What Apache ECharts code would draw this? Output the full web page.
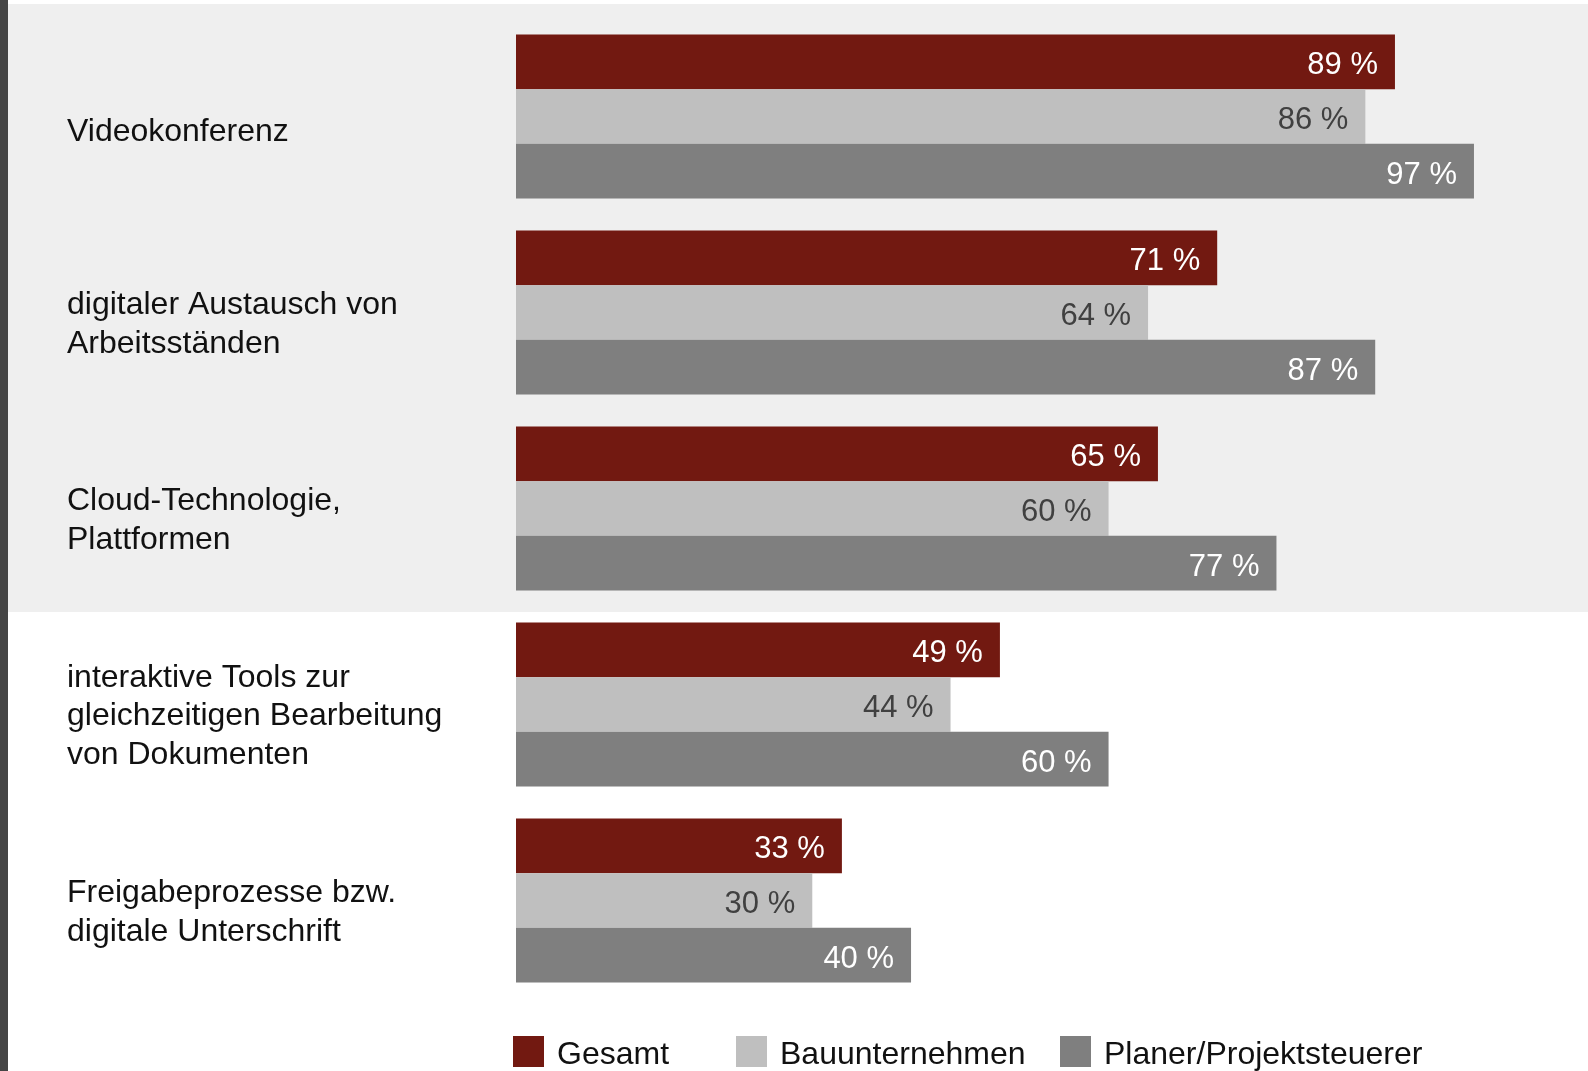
<!DOCTYPE html>
<html>
<head>
<meta charset="utf-8">
<style>
  html, body { margin: 0; padding: 0; background: #ffffff; }
  #chart { width: 1588px; height: 1071px; }
</style>
<script src="https://cdn.jsdelivr.net/npm/echarts@6/dist/echarts.min.js"></script>
</head>
<body>
<div id="chart"></div>
<script>
// Nutzung digitaler Werkzeuge in der Zusammenarbeit (Anteile in %)
const categories = [
  'Videokonferenz',
  'digitaler Austausch von\nArbeitsständen',
  'Cloud-Technologie,\nPlattformen',
  'interaktive Tools zur\ngleichzeitigen Bearbeitung\nvon Dokumenten',
  'Freigabeprozesse bzw.\ndigitale Unterschrift'
];
const seriesNames = ['Gesamt', 'Bauunternehmen', 'Planer/Projektsteuerer'];
const gesamt = [89, 71, 65, 49, 33];
const bauunternehmen = [86, 64, 60, 44, 30];
const planer = [97, 87, 77, 60, 40];

const colors = ['#721911', '#bfbfbf', '#7f7f7f'];
const labelColors = ['#ffffff', '#404040', '#ffffff'];
const FONT = '"Liberation Sans", Arial, sans-serif';

const chart = echarts.init(document.getElementById('chart'), null, { renderer: 'canvas' });

function barSeries(name, data, idx) {
  return {
    name: name,
    type: 'bar',
    data: data,
    barWidth: 54.7,
    barGap: '0%',
    itemStyle: { color: colors[idx] },
    label: {
      show: true,
      position: 'insideRight',
      distance: 17,
      offset: [0, 4],
      formatter: p => p.value + ' %',
      color: labelColors[idx],
      fontFamily: FONT,
      fontSize: 31
    },
    silent: true,
    animation: false
  };
}

function legendFor(name, left) {
  return {
    data: [name],
    left: left,
    top: 1031,
    orient: 'horizontal',
    itemWidth: 31,
    itemHeight: 31,
    icon: 'rect',
    selectedMode: false,
    formatter: n => '{n|' + n + '}',
    textStyle: {
      fontFamily: FONT,
      fontSize: 32,
      color: '#111111',
      rich: {
        n: {
          fontFamily: FONT,
          fontSize: 32,
          color: '#111111',
          padding: [7, 0, 0, 8]
        }
      }
    }
  };
}

// Kategorietext etwas unterhalb der Gruppenmitte setzen: ein leerer
// Abstandshalter oberhalb des Textblocks verschiebt ihn nach unten.
function categoryLabel(value) {
  const lines = value.split('\n');
  const spacer = lines.length === 1 ? '{sp1| }' : '{sp2| }';
  return spacer + '\n' + lines.map(l => '{t|' + l + '}').join('\n');
}

chart.setOption({
  animation: false,
  backgroundColor: '#ffffff',
  graphic: [
    // hellgrauer Hintergrund hinter den ersten drei Gruppen
    { type: 'rect', z: -10, silent: true,
      shape: { x: 8, y: 4, width: 1580, height: 608 },
      style: { fill: '#efefef' } },
    // dunkler Randstreifen links
    { type: 'rect', z: -10, silent: true,
      shape: { x: 0, y: 0, width: 8, height: 1071 },
      style: { fill: '#454545' } }
  ],
  grid: {
    left: 516,
    top: 18.5,
    width: 987.6,
    height: 980,
    containLabel: false
  },
  xAxis: {
    type: 'value',
    min: 0,
    max: 100,
    show: false
  },
  yAxis: {
    type: 'category',
    data: categories,
    inverse: true,
    axisLine: { show: false },
    axisTick: { show: false },
    splitLine: { show: false },
    axisLabel: {
      margin: 449,
      align: 'left',
      formatter: categoryLabel,
      rich: {
        sp1: { fontSize: 4, lineHeight: 32, height: 32 },
        sp2: { fontSize: 4, lineHeight: 24, height: 24 },
        t: {
          fontFamily: FONT,
          fontSize: 32,
          lineHeight: 38.5,
          color: '#111111',
          align: 'left'
        }
      }
    }
  },
  legend: [
    legendFor(seriesNames[0], 508),
    legendFor(seriesNames[1], 731),
    legendFor(seriesNames[2], 1055)
  ],
  series: [
    barSeries(seriesNames[0], gesamt, 0),
    barSeries(seriesNames[1], bauunternehmen, 1),
    barSeries(seriesNames[2], planer, 2)
  ]
});
</script>
</body>
</html>
